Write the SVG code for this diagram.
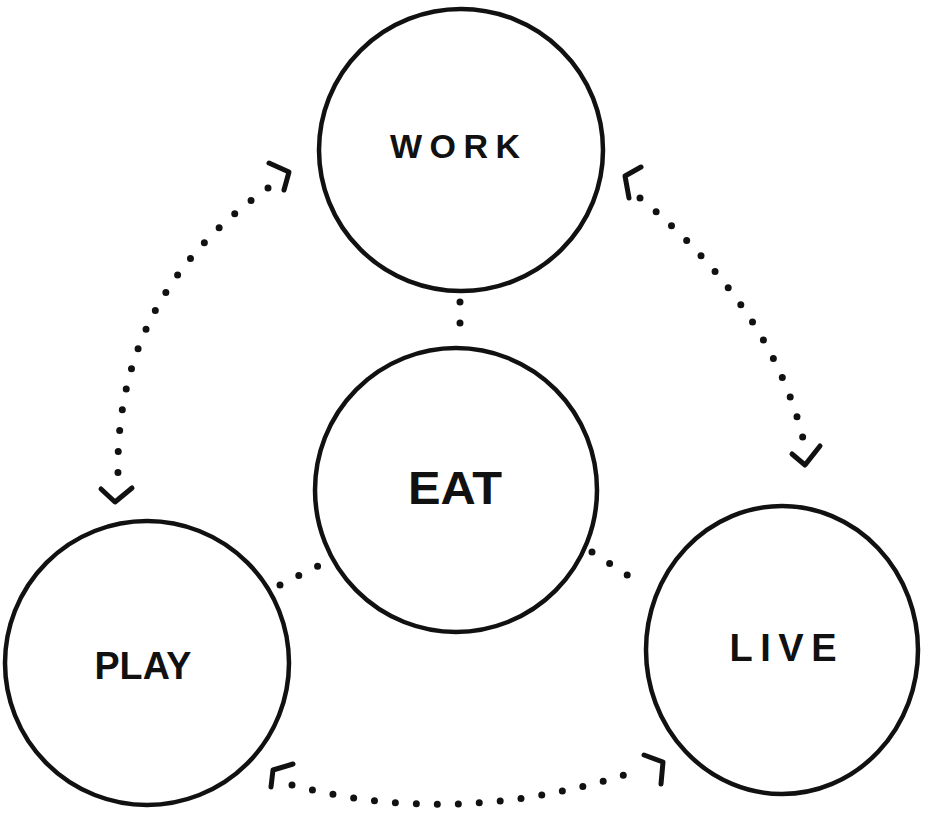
<svg xmlns="http://www.w3.org/2000/svg" width="938" height="832" viewBox="0 0 938 832">
<style>
.node{fill:none;stroke:#111;stroke-width:4.5}
.lbl{font-family:"Liberation Sans",Arial,sans-serif;font-weight:bold;fill:#111;text-anchor:middle;dominant-baseline:central}
.dots{fill:none;stroke:#111;stroke-width:7;stroke-linecap:round;stroke-dasharray:0 21}
.head{fill:none;stroke:#111;stroke-width:5;stroke-linecap:round;stroke-linejoin:round}
</style>
<rect width="938" height="832" fill="#fff"/>
<g id="connectors">
<path class="dots" d="M268,188 Q115,295 118,474"/>
<polyline class="head" points="269,163 289,172 284,190"/>
<polyline class="head" points="101,489 115,502 132,488"/>
<path class="dots" d="M640,198 Q775,310 805,447"/>
<polyline class="head" points="641,167 625,176 629,198"/>
<polyline class="head" points="792,454 805,465 820,446"/>
<path class="dots" d="M292,785 Q460,830 640,770"/>
<polyline class="head" points="293,764 273,770 271,787"/>
<polyline class="head" points="644,755 663,762 661,784"/>
<path class="dots" d="M460,302 L460,340"/>
<path class="dots" d="M280,585 L320,565"/>
<path class="dots" d="M592,552 L632,578"/>
</g>
<g id="work"><ellipse class="node" cx="461" cy="150" rx="142" ry="141"/><text class="lbl" x="455" y="146" font-size="34" textLength="130" lengthAdjust="spacing">WORK</text></g>
<g id="eat"><ellipse class="node" cx="456" cy="490" rx="141" ry="142"/><text class="lbl" x="455" y="488" font-size="46" textLength="94" lengthAdjust="spacingAndGlyphs">EAT</text></g>
<g id="play"><ellipse class="node" cx="147" cy="663" rx="142" ry="142"/><text class="lbl" x="143" y="666" font-size="38" textLength="97" lengthAdjust="spacingAndGlyphs">PLAY</text></g>
<g id="live"><ellipse class="node" cx="782" cy="650" rx="136" ry="144"/><text class="lbl" x="783" y="648" font-size="38" textLength="107" lengthAdjust="spacing">LIVE</text></g>
</svg>
